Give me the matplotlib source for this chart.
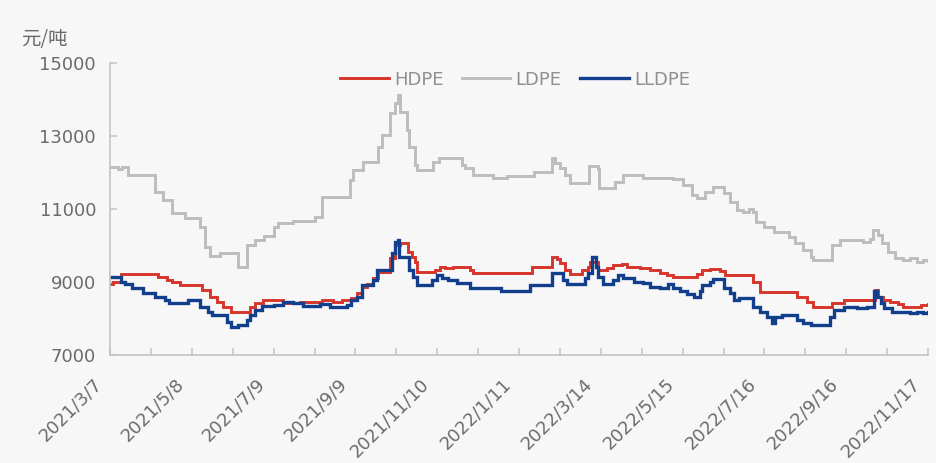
import numpy as np
import pandas as pd
import matplotlib.pyplot as plt
import matplotlib.transforms as mtransforms

plt.rcParams['font.family'] = ['DejaVu Sans', 'Noto Sans CJK SC']

start = pd.Timestamp('2021-03-07')

# price change points: days since 2021/3/7 and price (元/吨)
hdpe_day = [0, 2, 8, 36, 43, 47, 53, 70, 76, 81, 86, 92, 106, 110, 116, 131, 144, 161, 169, 176,
            183, 187, 191, 195, 199, 203, 212, 216, 220, 226, 229, 231, 233, 246, 250, 254, 260, 273,
            275, 320, 335, 339, 341, 345, 349, 358, 362, 364, 370, 377, 381, 388, 392, 402, 409, 417,
            422, 427, 445, 449, 455, 462, 466, 487, 493, 521, 528, 533, 547, 556, 580, 582, 586, 591,
            597, 601, 615, 620]
hdpe_val = [8950, 9000, 9220, 9150, 9060, 9000, 8920, 8780, 8600, 8460, 8320, 8190, 8320, 8420, 8500,
            8420, 8450, 8510, 8460, 8510, 8560, 8700, 8870, 8950, 9110, 9280, 9650, 10010, 10060, 9830,
            9690, 9560, 9280, 9330, 9420, 9370, 9420, 9330, 9260, 9420, 9690, 9620, 9510, 9330, 9220,
            9330, 9420, 9560, 9330, 9380, 9470, 9500, 9420, 9380, 9330, 9240, 9200, 9150, 9220, 9330,
            9350, 9300, 9190, 9010, 8730, 8600, 8460, 8320, 8430, 8510, 8780, 8600, 8510, 8460, 8400,
            8320, 8360, 8400]

ldpe_day = [0, 6, 9, 14, 34, 40, 47, 57, 68, 72, 76, 83, 97, 104, 110, 117, 124, 127, 139, 155, 161,
            182, 184, 192, 203, 206, 212, 216, 218, 220, 225, 227, 231, 233, 245, 249, 267, 269, 275,
            290, 301, 321, 335, 337, 341, 345, 349, 363, 370, 371, 383, 389, 404, 427, 434, 441, 445,
            451, 457, 465, 470, 475, 480, 484, 487, 490, 496, 503, 515, 519, 525, 531, 533, 547, 553,
            571, 576, 578, 582, 585, 590, 595, 601, 606, 612, 616, 620]
ldpe_val = [12160, 12100, 12160, 11930, 11475, 11250, 10890, 10750, 10510, 9960, 9710, 9790, 9410,
            10010, 10150, 10260, 10510, 10620, 10670, 10790, 11340, 11800, 12070, 12300, 12710, 13030,
            13630, 13900, 14120, 13670, 13160, 12710, 12210, 12070, 12300, 12390, 12210, 12120, 11930,
            11850, 11900, 12020, 12390, 12250, 12120, 11930, 11710, 12180, 12100, 11570, 11750, 11930,
            11850, 11820, 11660, 11380, 11300, 11475, 11600, 11430, 11200, 10970, 10930, 11000, 10930,
            10650, 10510, 10380, 10240, 10070, 9880, 9690, 9600, 10010, 10150, 10100, 10170, 10420,
            10280, 10070, 9830, 9650, 9600, 9650, 9560, 9610, 9580]

lldpe_day = [0, 8, 11, 17, 25, 34, 42, 45, 59, 68, 74, 77, 89, 92, 97, 104, 106, 110, 115, 124, 131,
             139, 146, 159, 167, 180, 183, 187, 191, 199, 202, 214, 216, 218, 219, 227, 230, 233, 244,
             248, 252, 256, 263, 273, 296, 302, 318, 335, 343, 346, 360, 362, 365, 368, 370, 374, 381,
             385, 389, 397, 404, 409, 417, 423, 427, 432, 437, 443, 447, 449, 455, 457, 465, 470, 473,
             477, 487, 493, 498, 502, 504, 509, 521, 525, 531, 546, 549, 556, 566, 574, 579, 581, 584,
             587, 593, 606, 612, 616, 620]
lldpe_val = [9150, 9010, 8950, 8830, 8690, 8600, 8510, 8420, 8510, 8320, 8190, 8100, 7910, 7780, 7820,
             7960, 8100, 8230, 8340, 8380, 8460, 8420, 8350, 8400, 8320, 8370, 8510, 8600, 8920, 9060,
             9330, 9790, 10100, 10150, 9690, 9330, 9150, 8920, 9060, 9190, 9100, 9060, 8980, 8830,
             8740, 8760, 8920, 9260, 9060, 8950, 9120, 9240, 9690, 9420, 9150, 8950, 9060, 9190, 9100,
             9010, 8960, 8870, 8830, 8950, 8830, 8740, 8670, 8600, 8740, 8920, 9010, 9070, 8830, 8690,
             8510, 8560, 8320, 8190, 8050, 7870, 8050, 8100, 7960, 7870, 7820, 8050, 8230, 8320, 8280,
             8320, 8760, 8600, 8420, 8280, 8190, 8150, 8190, 8150, 8180]

series = [
    ('HDPE', hdpe_day, hdpe_val, '#d7352c', 2.1),
    ('LDPE', ldpe_day, ldpe_val, '#bdbdbd', 2.1),
    ('LLDPE', lldpe_day, lldpe_val, '#123f8c', 2.4),
]

bg = '#f7f7f7'
fig = plt.figure(figsize=(9.37, 4.63), dpi=100, facecolor=bg)
ax = fig.add_axes([0.1174, 0.2333, 0.873, 0.6306], facecolor=bg)

for name, day, val, color, lw in series:
    dates = start + pd.to_timedelta(day, unit='D')
    ax.plot(dates, val, drawstyle='steps-post', color=color, lw=lw, label=name,
            solid_joinstyle='miter')

end = start + pd.Timedelta(days=620)
ax.set_xlim(start, end)
ax.set_ylim(7000, 15000)
ax.set_yticks([7000, 9000, 11000, 13000, 15000])

# a tick every 31 days, a label on every other one
label_days = np.arange(0, 621, 62)
minor_days = np.arange(31, 620, 62)
ax.set_xticks(start + pd.to_timedelta(label_days, unit='D'))
ax.set_xticks(start + pd.to_timedelta(minor_days, unit='D'), minor=True)
ax.set_xticklabels([f'{d.year}/{d.month}/{d.day}'
                    for d in start + pd.to_timedelta(label_days, unit='D')])

for s in ['top', 'right']:
    ax.spines[s].set_visible(False)
for s in ['left', 'bottom']:
    ax.spines[s].set_color('#c4c4c4')
    ax.spines[s].set_linewidth(1.2)

ax.tick_params(axis='both', which='both', direction='in', length=5, width=1.1,
               color='#c4c4c4', labelcolor='#6b6b6b', labelsize=13)
ax.tick_params(axis='y', pad=10)
ax.tick_params(axis='x', pad=19)

offset = mtransforms.ScaledTranslation(-8 / 72, 0, fig.dpi_scale_trans)
for lab in ax.get_xticklabels():
    lab.set_rotation(45)
    lab.set_ha('right')
    lab.set_va('center')
    lab.set_rotation_mode('anchor')
    lab.set_transform(lab.get_transform() + offset)

leg = ax.legend(loc='upper center', bbox_to_anchor=(0.495, 1.03), ncol=3, frameon=False,
                fontsize=13, handlelength=2.7, handletextpad=0.3, columnspacing=1.0)
for t in leg.get_texts():
    t.set_color('#8f8f8f')

fig.text(0.023, 0.903, '元/吨', fontsize=14, color='#6b6b6b',
         family=['Noto Sans CJK SC', 'DejaVu Sans'])

fig.savefig('out.png', dpi=100, facecolor=bg)
